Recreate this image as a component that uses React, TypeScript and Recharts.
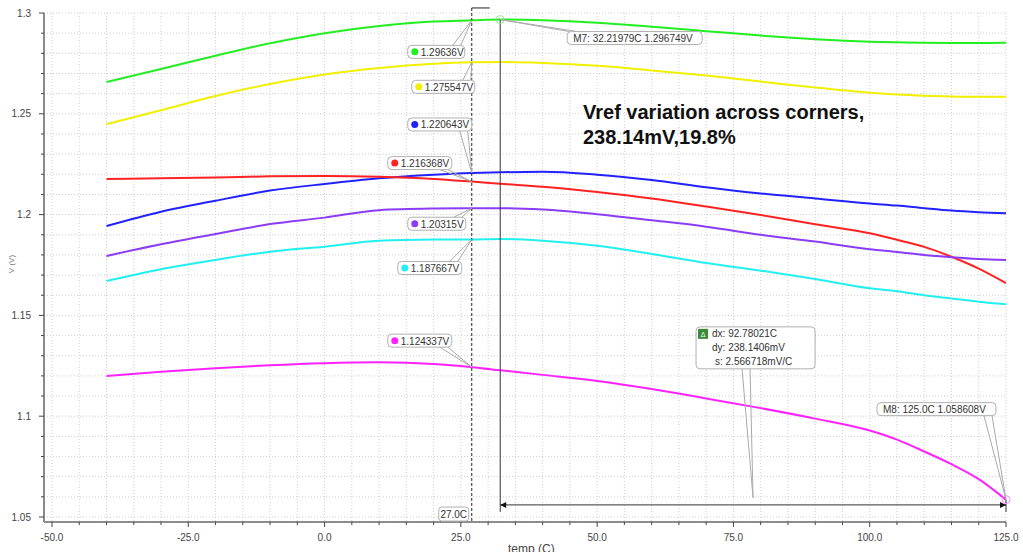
import { LineChart, Line, XAxis, YAxis, CartesianGrid, ReferenceLine, ReferenceDot } from 'recharts';

// temperature sweep (C)
const temps = [-40, -30, -20, -10, 0, 10, 20, 27, 32.2, 40, 50, 60, 70, 80, 90, 100, 105, 110, 115, 120, 125];

// Vref (V) per corner
const greenV = [1.2658, 1.2722, 1.2788, 1.285, 1.29, 1.2936, 1.2958, 1.29636, 1.29675, 1.2964, 1.2952, 1.2932, 1.291, 1.2888, 1.287, 1.2858, 1.2855, 1.2852, 1.2851, 1.2851, 1.2852];
const yellowV = [1.2449, 1.2518, 1.2588, 1.2648, 1.2695, 1.2727, 1.2748, 1.275547, 1.2757, 1.2752, 1.2738, 1.2715, 1.269, 1.266, 1.263, 1.2605, 1.2596, 1.259, 1.2586, 1.2584, 1.2584];
const blueV = [1.1943, 1.2014, 1.2069, 1.2119, 1.2152, 1.218, 1.2198, 1.220643, 1.221, 1.2212, 1.2198, 1.2172, 1.2136, 1.2105, 1.208, 1.2055, 1.2045, 1.2032, 1.202, 1.2012, 1.2007];
const redV = [1.2177, 1.218, 1.2184, 1.219, 1.2192, 1.2188, 1.2177, 1.216368, 1.2153, 1.2138, 1.2112, 1.208, 1.204, 1.1998, 1.1952, 1.1907, 1.1875, 1.184, 1.1791, 1.1732, 1.166];
const purpleV = [1.1795, 1.1853, 1.1904, 1.1953, 1.1985, 1.2022, 1.203, 1.20315, 1.2032, 1.2025, 1.2002, 1.1972, 1.194, 1.19, 1.1866, 1.1828, 1.1815, 1.18, 1.1789, 1.178, 1.1775];
const cyanV = [1.1671, 1.1729, 1.1775, 1.1816, 1.1841, 1.187, 1.1876, 1.187667, 1.1879, 1.187, 1.1845, 1.1805, 1.176, 1.1722, 1.168, 1.1635, 1.162, 1.16, 1.1584, 1.1568, 1.1555];
const magentaV = [1.12, 1.122, 1.1238, 1.1253, 1.1263, 1.1267, 1.1259, 1.124337, 1.1228, 1.1205, 1.1175, 1.1135, 1.1088, 1.104, 1.0988, 1.0929, 1.0884, 1.0825, 1.0762, 1.0688, 1.058608];

const seriesKeys = ['green', 'yellow', 'blue', 'red', 'purple', 'cyan', 'magenta'];
const seriesValues = [greenV, yellowV, blueV, redV, purpleV, cyanV, magentaV];
const seriesColors = ['#22ee22', '#f0f000', '#2222ff', '#ff2222', '#8b3cf7', '#22f0f0', '#ff22ff'];

// cursor readout at 27C
const cursorTemp = 27.0;
const cursorValues = [1.29636, 1.275547, 1.220643, 1.216368, 1.20315, 1.187667, 1.124337];
const cursorTexts = ['1.29636V', '1.275547V', '1.220643V', '1.216368V', '1.20315V', '1.187667V', '1.124337V'];

// markers
const m7 = { temp: 32.21979, volt: 1.296749, text: 'M7: 32.21979C 1.296749V' };
const m8 = { temp: 125.0, volt: 1.058608, text: 'M8: 125.0C 1.058608V' };
const deltaTexts = ['dx: 92.78021C', 'dy: 238.1406mV', 's: 2.566718mV/C'];

const xTicks = [-50, -45, -40, -35, -30, -25, -20, -15, -10, -5, 0, 5, 10, 15, 20, 25, 30, 35, 40, 45, 50, 55, 60, 65, 70, 75, 80, 85, 90, 95, 100, 105, 110, 115, 120, 125];
const yTicks = [1.05, 1.06, 1.07, 1.08, 1.09, 1.1, 1.11, 1.12, 1.13, 1.14, 1.15, 1.16, 1.17, 1.18, 1.19, 1.2, 1.21, 1.22, 1.23, 1.24, 1.25, 1.26, 1.27, 1.28, 1.29, 1.3];

const data = temps.map((t, i) => {
  const row: Record<string, number> = { temp: t };
  seriesKeys.forEach((k, j) => { row[k] = seriesValues[j][i]; });
  return row;
});

// label box offsets from the cursor point (px)
const boxOffsets = [
  { dx: -64, dy: 25, w: 57 },
  { dx: -60, dy: 18, w: 63 },
  { dx: -64, dy: -55, w: 64 },
  { dx: -84, dy: -25, w: 64 },
  { dx: -64, dy: 9, w: 58 },
  { dx: -74, dy: 22, w: 64 },
  { dx: -84, dy: -33, w: 64 },
];

const FONT = '"Liberation Sans", Arial, sans-serif';

function XTick(props: any) {
  const { x, y, payload } = props;
  const major = Math.round(payload.value) % 25 === 0;
  return (
    <g>
      <line x1={x} y1={y} x2={x} y2={y + (major ? 5 : 3)} stroke="#444" />
      {major && (
        <text x={x} y={y + 19} textAnchor="middle" fontSize={10} fill="#444" fontFamily={FONT}>
          {payload.value.toFixed(1)}
        </text>
      )}
    </g>
  );
}

function YTick(props: any) {
  const { x, y, payload } = props;
  const major = Math.round(payload.value * 100) % 5 === 0;
  return (
    <g>
      <line x1={x - (major ? 5 : 3)} y1={y} x2={x} y2={y} stroke="#444" />
      {major && (
        <text x={x - 13} y={y} textAnchor="end" dominantBaseline="central" fontSize={10} fill="#444" fontFamily={FONT}>
          {String(Number(payload.value.toFixed(2)))}
        </text>
      )}
    </g>
  );
}

function Callout({ cx, cy, dx, dy, w, color, text, leftLead }: any) {
  const left = cx + dx;
  const top = cy + dy;
  const h = 13;
  const below = top > cy;
  const ey = below ? top : top + h;
  const ex1 = leftLead ? left + 2 : left + w - 12;
  const ex2 = leftLead ? left + 10 : left + w - 4;
  return (
    <g>
      <line x1={ex1} y1={ey} x2={cx} y2={cy} stroke="#aaa" />
      <line x1={ex2} y1={ey} x2={cx} y2={cy} stroke="#aaa" />
      <rect x={left} y={top} width={w} height={h} rx={4} fill="#fff" stroke="#b0b0b0" />
      {color && <circle cx={left + 7} cy={top + h / 2} r={3.5} fill={color} />}
      <text x={left + (color ? 13 : 6)} y={top + h / 2 + 0.5} dominantBaseline="central" fontSize={10} fill="#333" fontFamily={FONT}>
        {text}
      </text>
    </g>
  );
}

function DeltaBox({ cx, cy }: any) {
  const left = cx - 57;
  const top = cy - 171;
  return (
    <g>
      <line x1={cx - 11} y1={top + 42} x2={cx} y2={cy} stroke="#aaa" />
      <line x1={cx - 3} y1={top + 42} x2={cx} y2={cy} stroke="#aaa" />
      <rect x={left} y={top} width={119} height={42} rx={4} fill="#fff" stroke="#b0b0b0" />
      <rect x={left + 2} y={top + 2} width={10} height={10} fill="#3a8a3a" />
      <text x={left + 7} y={top + 7.5} textAnchor="middle" dominantBaseline="central" fontSize={7} fill="#fff" fontFamily={FONT}>Δ</text>
      {deltaTexts.map((t, i) => (
        <text key={t} x={left + 16 + (i === 2 ? 3 : 0)} y={top + 10 + i * 14} fontSize={10} fill="#333" fontFamily={FONT}>
          {t}
        </text>
      ))}
    </g>
  );
}

function ArrowLine(props: any) {
  const { x1, y1, x2, y2 } = props;
  return (
    <g>
      <line x1={x1} y1={y1} x2={x2} y2={y2} stroke="#333" />
      <polygon points={`${x1},${y1} ${x1 + 6},${y1 - 3} ${x1 + 6},${y1 + 3}`} fill="#111" />
      <polygon points={`${x2},${y2} ${x2 - 6},${y2 - 3} ${x2 - 6},${y2 + 3}`} fill="#111" />
    </g>
  );
}

export default function App() {
  return (
    <div style={{ position: 'relative', width: 1023, height: 552, background: '#fff' }}>
      <style>{'body{margin:0}'}</style>
      <LineChart width={1023} height={552} data={data} margin={{ top: 13, right: 17, left: 0, bottom: 0 }}>
        <CartesianGrid stroke="#cfcfcf" strokeDasharray="1 2" />
        <XAxis
          type="number"
          dataKey="temp"
          domain={[-50, 125]}
          ticks={xTicks}
          interval={0}
          tickSize={0}
          tickMargin={0}
          tick={(p: any) => <XTick {...p} />}
          padding={{ left: 8, right: 0 }}
          axisLine={{ stroke: '#222' }}
          allowDataOverflow
          height={30}
          label={{
            content: () => (
              <text x={508} y={553} fontSize={12} fill="#444" fontFamily={FONT}>temp (C)</text>
            ),
          }}
        />
        <YAxis
          type="number"
          domain={[1.05, 1.3]}
          ticks={yTicks}
          interval={0}
          tickSize={0}
          tickMargin={0}
          tick={(p: any) => <YTick {...p} />}
          width={44}
          padding={{ top: 0, bottom: 5 }}
          axisLine={{ stroke: '#8a8a8a', strokeWidth: 2 }}
          allowDataOverflow
          label={{
            content: () => (
              <text x={14} y={264} transform="rotate(-90 14 264)" textAnchor="middle" fontSize={8} fill="#777" fontFamily={FONT}>V (V)</text>
            ),
          }}
        />
        {seriesKeys.map((k, i) => (
          <Line key={k} type="monotone" dataKey={k} stroke={seriesColors[i]} strokeWidth={2} dot={false} isAnimationActive={false} />
        ))}

        {/* cursor at 27C */}
        <ReferenceLine
          segment={[{ x: cursorTemp, y: 1.3025 }, { x: cursorTemp, y: 1.0475 }]}
          stroke="#222"
          strokeDasharray="3 2"
          ifOverflow="visible"
        />
        <ReferenceLine segment={[{ x: cursorTemp, y: 1.3025 }, { x: 30.3, y: 1.3025 }]} stroke="#222" ifOverflow="visible" />
        <ReferenceDot
          x={cursorTemp}
          y={1.0475}
          r={0}
          ifOverflow="visible"
          shape={(p: any) => (
            <g>
              <rect x={p.cx - 33} y={p.cy - 15} width={30} height={14} rx={3} fill="#fff" stroke="#b0b0b0" />
              <text x={p.cx - 18} y={p.cy - 7.5} textAnchor="middle" dominantBaseline="central" fontSize={10} fill="#333" fontFamily={FONT}>27.0C</text>
            </g>
          )}
        />

        {/* delta between M7 and M8 */}
        <ReferenceLine segment={[{ x: m7.temp, y: m7.volt }, { x: m7.temp, y: 1.0525 }]} stroke="#333" ifOverflow="visible" />
        <ReferenceLine segment={[{ x: m8.temp, y: m8.volt }, { x: m8.temp, y: 1.0525 }]} stroke="#333" ifOverflow="visible" />
        <ReferenceLine segment={[{ x: m7.temp, y: 1.056 }, { x: m8.temp, y: 1.056 }]} ifOverflow="visible" shape={(p: any) => <ArrowLine {...p} />} />

        {cursorValues.map((v, i) => (
          <ReferenceDot
            key={cursorTexts[i]}
            x={cursorTemp}
            y={v}
            r={0}
            ifOverflow="visible"
            shape={(p: any) => <Callout cx={p.cx} cy={p.cy} {...boxOffsets[i]} color={seriesColors[i]} text={cursorTexts[i]} />}
          />
        ))}

        <ReferenceDot x={m7.temp} y={m7.volt} r={4} fill="none" stroke="#88ee88" ifOverflow="visible" />
        <ReferenceDot
          x={m7.temp}
          y={m7.volt}
          r={0}
          ifOverflow="visible"
          shape={(p: any) => <Callout cx={p.cx} cy={p.cy} dx={67} dy={12} w={135} text={m7.text} leftLead />}
        />
        <ReferenceDot x={m8.temp} y={m8.volt} r={4} fill="none" stroke="#ff88ff" ifOverflow="visible" />
        <ReferenceDot
          x={m8.temp}
          y={m8.volt}
          r={0}
          ifOverflow="visible"
          shape={(p: any) => <Callout cx={p.cx} cy={p.cy} dx={-129} dy={-97} w={119} text={m8.text} />}
        />
        <ReferenceDot x={78.6} y={1.0595} r={0} ifOverflow="visible" shape={(p: any) => <DeltaBox {...p} />} />
      </LineChart>
      <div
        style={{
          position: 'absolute',
          left: 583,
          top: 100,
          fontFamily: FONT,
          fontWeight: 'bold',
          fontSize: 20,
          lineHeight: '25px',
          color: '#111',
          whiteSpace: 'nowrap',
        }}
      >
        Vref variation across corners,
        <br />
        238.14mV,19.8%
      </div>
    </div>
  );
}
